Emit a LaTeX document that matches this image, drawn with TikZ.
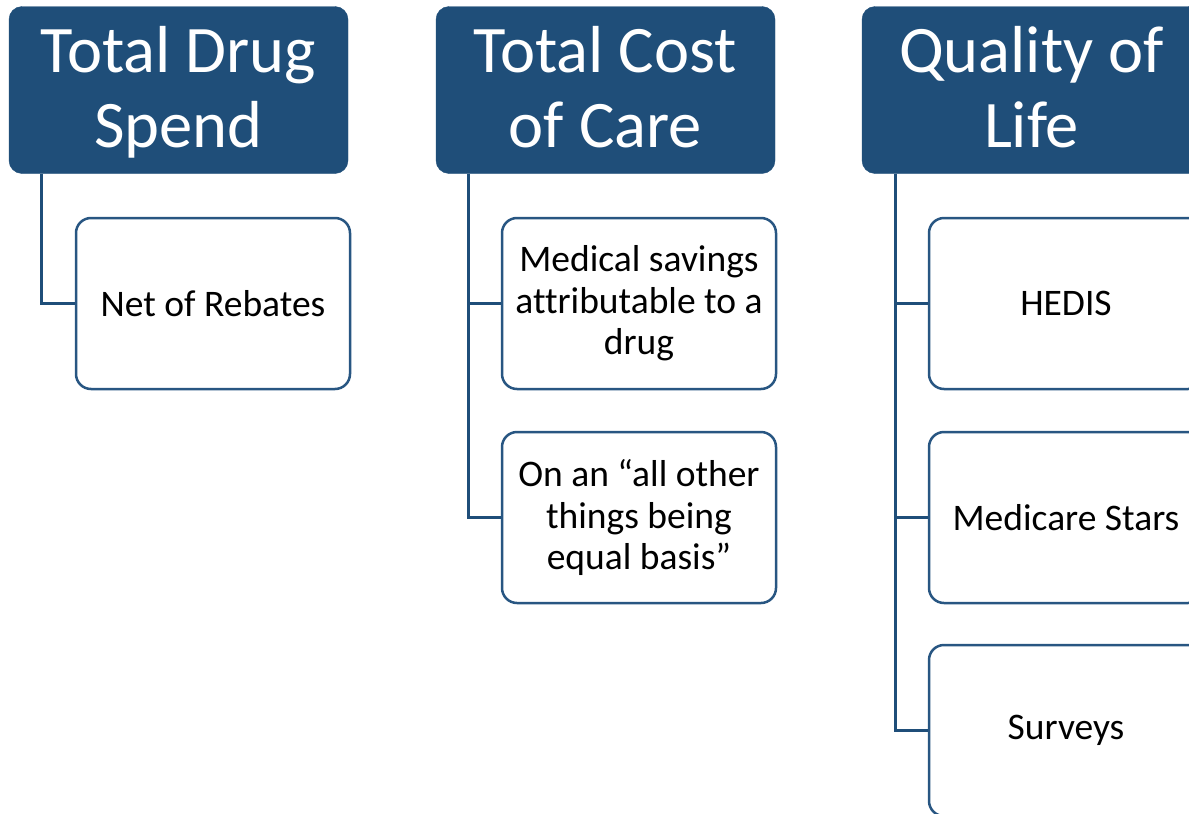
\documentclass[tikz,border=0pt]{standalone}
\usepackage{fontspec}
\setmainfont{Carlito}[Ligatures={NoCommon}]
\definecolor{hdblue}{RGB}{31,78,121}
\definecolor{bxblue}{RGB}{40,86,130}
\newcommand{\headtext}[2]{\rule{0pt}{61.5pt}#1\\#2\strut}
\tikzset{
  head/.style={fill=hdblue, draw=hdblue, rounded corners=13pt, text=white,
    minimum width=339pt, minimum height=167pt, align=center,
    font=\fontsize{66.5}{75}\selectfont, inner sep=0pt},
  item/.style={fill=white, draw=bxblue, line width=2.5pt, rounded corners=15pt,
    minimum width=274pt, minimum height=171pt, align=center,
    font=\fontsize{37.5}{41.5}\selectfont, inner sep=0pt},
  link/.style={draw=hdblue, line width=3pt},
}
\begin{document}
\begin{tikzpicture}[x=1pt,y=-1pt]
    \useasboundingbox (0,0) rectangle (1189,814);
    \clip (0,0) rectangle (1189,814);
    %% headers
    \node[head] (spend) at (178.5,90) {\headtext{Total Drug}{Spend}};
    \node[head] (cost) at (605.5,90) {\headtext{Total Cost}{of Care}};
    \node[head] (life) at (1031.5,90) {\headtext{Quality of}{Life}};
    %% items
    \node[item] (rebates) at (213,303.5) {Net of Rebates};
    \node[item] (savings) at (639,303.5) {Medical savings\\attributable to a\\drug};
    \node[item] (equal) at (639,517.5) {On an “all other\\things being\\equal basis”};
    \node[item] (hedis) at (1066,303.5) {HEDIS};
    \node[item] (stars) at (1066,517.5) {Medicare Stars};
    \node[item] (surveys) at (1066,730.5) {Surveys};
    %% links
    \draw[link] ([xshift=33pt]spend.south west) |- (rebates.west);
    \foreach \t in {savings,equal}
        \draw[link] ([xshift=33pt]cost.south west) |- (\t.west);
    \foreach \t in {hedis,stars,surveys}
        \draw[link] ([xshift=34pt]life.south west) |- (\t.west);
\end{tikzpicture}
\end{document}
